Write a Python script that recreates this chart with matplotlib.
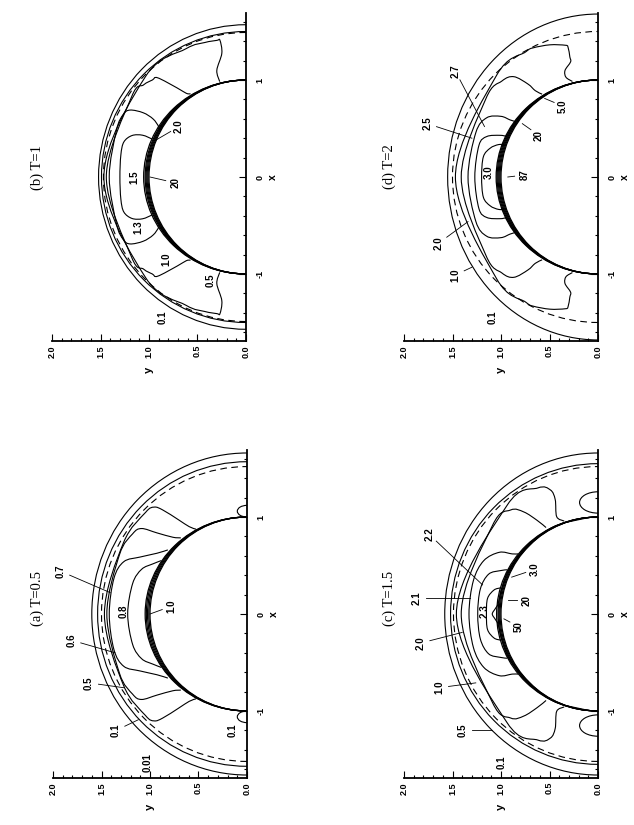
import matplotlib
matplotlib.use("Agg")
import matplotlib.pyplot as plt
import numpy as np
from matplotlib.patches import Arc, PathPatch
from matplotlib.path import Path
from matplotlib.ticker import MultipleLocator
import matplotlib.transforms as mtransforms

# page is a landscape figure turned 90 deg: horizontal = y, vertical = x
W, H = 634, 825
PX = 97.0          # pixels per unit
XLIM = (-1.69, 1.69)
TICKFONT = ['Liberation Sans Narrow', 'Liberation Sans', 'DejaVu Sans']

# ---- data (x, y physical units) ----
# (a) T=0.5
A_ARCS = [(1.66, 1.60), (1.57, 1.54)]          # solid outer contours (semi-axis x, semi-axis y)
A_DASH = [(1.52, 1.50)]
A_BODY = [1.0, 1.012, 1.025, 1.038, 1.05]
A_LINES = [
    [(90, 1.47), (60, 1.47), (45, 1.48), (41, 1.46), (39, 1.38), (36, 1.2), (33.5, 1.08), (31, 1.02)],
    [(90, 1.445), (65, 1.45), (55, 1.44), (51, 1.40), (48, 1.25), (44, 1.1), (41, 1.04)],
    [(90, 1.42), (75, 1.42), (67, 1.38), (62, 1.25), (56, 1.12), (51, 1.05)],
    [(90, 1.23), (75, 1.22), (67, 1.18), (62, 1.1), (58, 1.04)],
]
A_LOOPS = [(1.06, 0.06, 0.10)]
A_LABELS = [('0.01', -1.53, 1.02, None), ('0.1', -1.2, 1.35, (-1.09, 1.12)),
            ('0.1', -1.2, 0.15, None), ('0.5', -0.71, 1.63, (-0.76, 1.27)),
            ('0.6', -0.27, 1.81, (-0.40, 1.36)), ('0.7', 0.44, 1.92, (0.22, 1.41)),
            ('0.8', 0.03, 1.27, None), ('1.0', 0.08, 0.78, (0.0, 1.0))]

# (b) T=1
B_ARCS = [(1.57, 1.52), (1.50, 1.49)]
B_DASH = [(1.49, 1.47)]
B_BODY = [1.0, 1.01, 1.02, 1.03, 1.04, 1.055]
B_LINES = [
    [(90, 1.465), (45, 1.465), (25, 1.46), (17, 1.45), (12, 1.44), (10.8, 1.436), (11.05, 1.30), (15.3, 1.14), (15.4, 1.02)],
    [(90, 1.44), (55, 1.44), (48, 1.42), (44, 1.39), (41.7, 1.37), (37.7, 1.16), (35.5, 1.06), (33.7, 1.03)],
    [(90, 1.41), (70, 1.42), (63, 1.42), (60, 1.38), (58, 1.25), (58, 1.13), (60, 1.04), (62, 1.01)],
    [(90, 1.30), (80, 1.31), (74, 1.31), (70, 1.25), (68, 1.15), (68, 1.04)],
]
B_LOOPS = []
B_LABELS = [('0.1', -1.45, 0.86, None), ('0.5', -1.06, 0.36, None), ('1.0', -0.85, 0.82, None),
            ('1.3', -0.52, 1.11, None), ('1.5', 0.0, 1.15, None),
            ('20', -0.06, 0.73, (0.0, 0.99)), ('2.0', 0.52, 0.69, (0.38, 0.93))]

# (c) T=1.5
C_ARCS = [(1.66, 1.58), (1.55, 1.52)]
C_DASH = [(1.52, 1.49)]
C_BODY = [1.0, 1.01, 1.02, 1.03, 1.045]
C_LINES = [
    [(90, 1.46), (40, 1.46), (25.5, 1.44), (21, 1.37), (20.5, 1.26), (23, 1.09), (20, 1.02)],
    [(90, 1.41), (50, 1.42), (40, 1.40), (36, 1.3), (33, 1.15), (31, 1.04)],
    [(90, 1.33), (75, 1.33), (65, 1.3), (58, 1.2), (55, 1.08), (53, 1.03)],
    [(90, 1.24), (78, 1.24), (70, 1.2), (66, 1.1), (64, 1.04)],
    [(90, 1.15), (82, 1.15), (77, 1.1), (75, 1.04)],
    [(90, 1.09), (87, 1.06), (84, 1.035), (75, 1.025), (60, 1.02), (30, 1.01), (5, 1.0)],
]
C_LOOPS = [(1.15, 0.11, 0.19)]
C_LABELS = [('0.1', -1.53, 0.99, None), ('0.5', -1.2, 1.4, (-1.2, 1.09)),
            ('1.0', -0.76, 1.64, (-0.71, 1.26)), ('2.0', -0.30, 1.83, (-0.19, 1.40)),
            ('2.1', 0.16, 1.87, (0.16, 1.32)), ('2.2', 0.82, 1.74, (0.30, 1.19)),
            ('2.3', 0.03, 1.17, None), ('50', -0.13, 0.82, (-0.05, 0.97)),
            ('20', 0.14, 0.74, (0.14, 0.93)), ('3.0', 0.46, 0.65, (0.38, 0.89))]

# (d) T=2
D_ARCS = [(1.68, 1.55)]
D_DASH = [(1.50, 1.50)]
D_BODY = [1.0, 1.01, 1.02, 1.03, 1.04, 1.05]
D_LINES = [
    [(90, 1.47), (45, 1.48), (30, 1.49), (26.7, 1.49), (20, 1.45), (14, 1.40), (13, 1.375), (13.2, 1.27),
     (13.4, 1.22), (17.2, 1.15), (17.8, 1.08), (15, 1.02)],
    [(90, 1.41), (55, 1.41), (45, 1.40), (40, 1.35), (37, 1.2), (36, 1.1), (34, 1.03)],
    [(90, 1.34), (70, 1.34), (62, 1.3), (58, 1.18), (57, 1.08), (56, 1.02)],
    [(90, 1.27), (75, 1.27), (70, 1.22), (67, 1.1), (66, 1.03)],
    [(90, 1.20), (80, 1.2), (75, 1.15), (72, 1.08), (71, 1.02)],
]
D_LOOPS = []
D_LABELS = [('0.1', -1.45, 1.09, None), ('1.0', -1.01, 1.47, (-0.93, 1.30)),
            ('2.0', -0.68, 1.64, (-0.46, 1.34)), ('2.5', 0.55, 1.76, (0.40, 1.30)),
            ('2.7', 1.09, 1.47, (0.52, 1.17)), ('3.0', 0.05, 1.13, None),
            ('87', 0.02, 0.76, (0.0, 0.93)), ('20', 0.43, 0.61, (0.55, 0.78)),
            ('5.0', 0.73, 0.36, (0.81, 0.55))]

TITLES = ['(a) T=0.5', '(b) T=1', '(c) T=1.5', '(d) T=2']


def smooth_path(h, v):
    # Catmull-Rom through the read points, as cubic Bezier segments
    p = np.column_stack([h, v])
    verts = [p[0]]
    codes = [Path.MOVETO]
    n = len(p)
    for i in range(n - 1):
        p0 = p[i - 1] if i > 0 else p[i]
        p3 = p[i + 2] if i + 2 < n else p[i + 1]
        c1 = p[i] + (p[i + 1] - p0) / 6.0
        c2 = p[i + 1] - (p3 - p[i]) / 6.0
        verts += [c1, c2, p[i + 1]]
        codes += [Path.CURVE4] * 3
    return Path(verts, codes)


def draw_line(ax, half):
    pts = [(180 - t, r) for t, r in reversed(half)] + list(half[1:])
    th = np.radians([t for t, r in pts])
    rr = np.array([r for t, r in pts])
    ax.add_patch(PathPatch(smooth_path(rr * np.sin(th), rr * np.cos(th)),
                           fill=False, lw=0.8, color='black'))


def panel(rect, title, tx, ty, arcs, dash, body, lines, loops, labels):
    ax = fig.add_axes(rect)
    ax.set_xlim(2.0, 0.0)
    ax.set_ylim(*XLIM)
    for s in ['top', 'left']:
        ax.spines[s].set_visible(False)
    ax.spines['right'].set_linewidth(1.3)
    ax.spines['bottom'].set_linewidth(1.3)
    ax.xaxis.set_major_locator(MultipleLocator(0.5))
    ax.xaxis.set_minor_locator(MultipleLocator(0.1))
    ax.yaxis.set_major_locator(MultipleLocator(1.0))
    ax.yaxis.set_minor_locator(MultipleLocator(0.2))
    ax.yaxis.tick_right()
    ax.xaxis.set_major_formatter(matplotlib.ticker.FormatStrFormatter('%.1f'))
    ax.yaxis.set_major_formatter(matplotlib.ticker.FormatStrFormatter('%d'))
    ax.tick_params(which='both', direction='in', width=0.8)
    ax.tick_params(which='major', length=5)
    ax.tick_params(which='minor', length=2.5)
    ax.tick_params(axis='x', pad=3)
    ax.tick_params(axis='y', pad=7)
    for lab in ax.get_xticklabels() + ax.get_yticklabels():
        lab.set_rotation(90)
        lab.set_fontsize(6.5)
        lab.set_fontweight('bold')
        lab.set_family(TICKFONT)
    for lab in ax.get_xticklabels():
        lab.set_va('top')
    for lab in ax.get_yticklabels():
        lab.set_va('center')
        lab.set_ha('left')

    for a, b in arcs:
        ax.add_patch(Arc((0, 0), 2 * b, 2 * a, theta1=-90, theta2=90, lw=0.8, color='black'))
    for a, b in dash:
        ax.add_patch(Arc((0, 0), 2 * b, 2 * a, theta1=-90, theta2=90, lw=0.8, color='black',
                         ls=(0, (6, 4))))
    for b in body:
        ax.add_patch(Arc((0, 0), 2 * b, 2.0, theta1=-90, theta2=90, lw=0.9, color='black'))
    for half in lines:
        draw_line(ax, half)
    for cx, w, h in loops:
        for sgn in (1, -1):
            ax.add_patch(Arc((0, sgn * cx), 2 * h, 2 * w, theta1=-90, theta2=90, lw=0.8, color='black'))

    for text, x, y, tip in labels:
        ax.text(y, x, text, rotation=90, ha='center', va='center', fontsize=7,
                fontweight='bold', family=TICKFONT)
        if tip is not None:
            d = np.array([tip[1] - y, tip[0] - x])
            start = np.array([y, x]) + d / np.hypot(*d) * 0.1
            ax.plot([start[0], tip[1]], [start[1], tip[0]], color='black', lw=0.6)

    trh = mtransforms.blended_transform_factory(ax.transData, ax.transAxes)
    ax.text(1.0, -0.088, 'y', transform=trh, rotation=90, ha='center', va='center',
            fontsize=8, fontweight='bold', family=TICKFONT)
    trv = mtransforms.blended_transform_factory(ax.transAxes, ax.transData)
    ax.text(1.14, 0.0, 'x', transform=trv, rotation=90, ha='center', va='center',
            fontsize=7.5, fontweight='bold', family=TICKFONT)
    fig.text(tx / W, 1 - ty / H, title, rotation=90, ha='center', va='center',
             fontsize=10.5, family=['Liberation Serif', 'DejaVu Serif'])
    return ax


def rect(left, zero_row):
    return [left / W, 1 - (zero_row - XLIM[0] * PX) / H, 2.0 * PX / W, (XLIM[1] - XLIM[0]) * PX / H]


fig = plt.figure(figsize=(W / 100, H / 100), dpi=100)
panel(rect(52, 177), TITLES[1], 37, 167, B_ARCS, B_DASH, B_BODY, B_LINES, B_LOOPS, B_LABELS)
panel(rect(404, 177), TITLES[3], 389, 167, D_ARCS, D_DASH, D_BODY, D_LINES, D_LOOPS, D_LABELS)
panel(rect(53, 614), TITLES[0], 37, 598, A_ARCS, A_DASH, A_BODY, A_LINES, A_LOOPS, A_LABELS)
panel(rect(404, 614), TITLES[2], 389, 598, C_ARCS, C_DASH, C_BODY, C_LINES, C_LOOPS, C_LABELS)
fig.savefig('out.png', dpi=100)
